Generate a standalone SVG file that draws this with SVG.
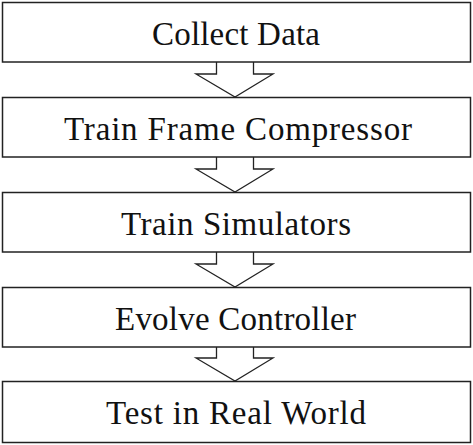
<svg xmlns="http://www.w3.org/2000/svg" width="473" height="445" viewBox="0 0 473 445">
<style>
.box{fill:#fff;stroke:#222;stroke-width:1.5}
.lbl{font-family:"Liberation Serif","DejaVu Serif",serif;font-size:33px;fill:#111;text-anchor:middle}
.arr{fill:#fff;stroke:#222;stroke-width:1.3;stroke-linejoin:miter}
</style>
<rect width="473" height="445" fill="#fff"/>
<g id="connectors">
<path class="arr" d="M216.5,62 V74 H196 L235,97 L273,74 H253.5 V62"/>
<path class="arr" d="M216.5,157 V169 H196 L235,192 L273,169 H253.5 V157"/>
<path class="arr" d="M216.5,252 V264 H196 L235,287 L273,264 H253.5 V252"/>
<path class="arr" d="M216.5,347 V358 H196 L235,381 L273,358 H253.5 V347"/>
</g>
<g id="n1"><rect class="box" x="2.5" y="2.5" width="468" height="59.5"/><text class="lbl" x="236" y="45" textLength="168" lengthAdjust="spacing">Collect Data</text></g>
<g id="n2"><rect class="box" x="2.5" y="97.5" width="468" height="59.5"/><text class="lbl" x="238" y="139.5" textLength="348" lengthAdjust="spacing">Train Frame Compressor</text></g>
<g id="n3"><rect class="box" x="2.5" y="192.5" width="468" height="59.5"/><text class="lbl" x="236" y="234.5" textLength="230" lengthAdjust="spacing">Train Simulators</text></g>
<g id="n4"><rect class="box" x="2.5" y="287.5" width="468" height="59.5"/><text class="lbl" x="235.5" y="330" textLength="241" lengthAdjust="spacing">Evolve Controller</text></g>
<g id="n5"><rect class="box" x="2.5" y="381.5" width="468" height="61"/><text class="lbl" x="236" y="424" textLength="260" lengthAdjust="spacing">Test in Real World</text></g>
</svg>
